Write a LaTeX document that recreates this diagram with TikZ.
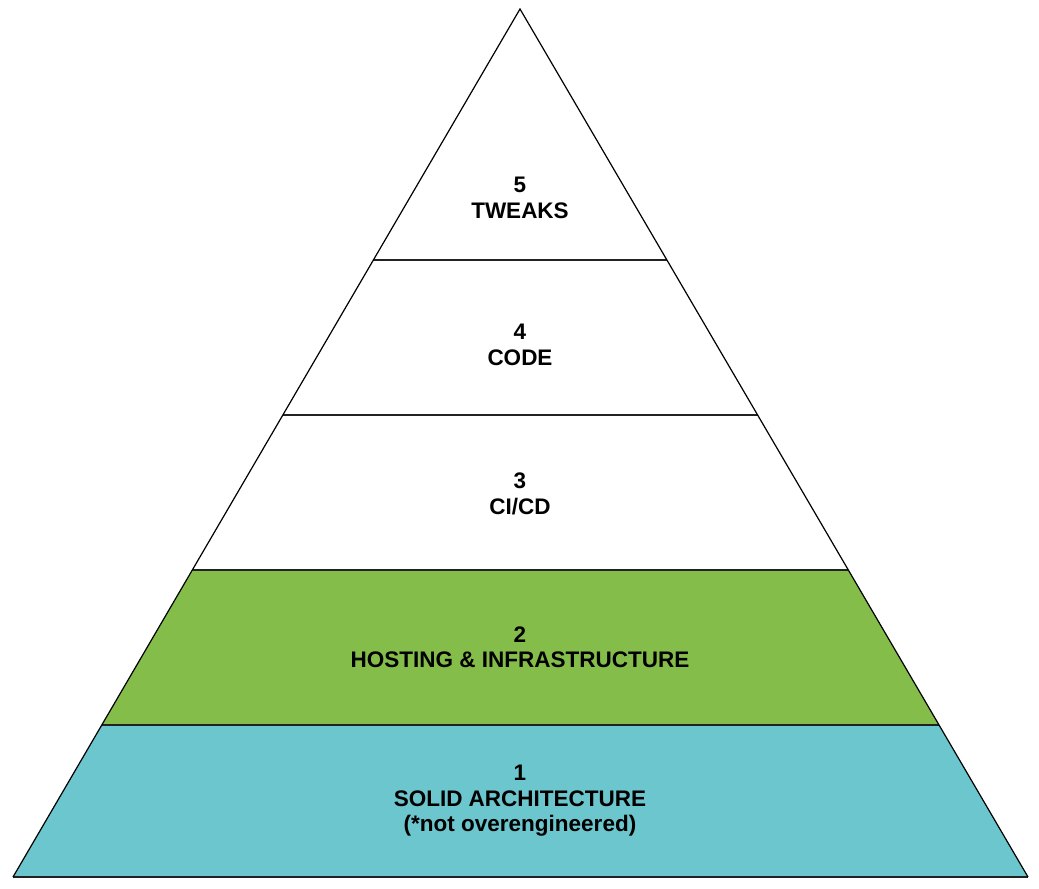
\documentclass[tikz,border=0pt]{standalone}
\usepackage{fontspec}
\setmainfont{Liberation Sans}
\usetikzlibrary{calc}
\definecolor{tiergreen}{RGB}{132,189,74}
\definecolor{tierteal}{RGB}{107,198,206}
\definecolor{linegray}{RGB}{34,34,34}
\begin{document}
\begin{tikzpicture}[x=1pt,y=-1pt,
  tierlabel/.style={align=center,font=\fontsize{22.5}{25.5}\selectfont\bfseries,inner sep=0pt},
  divider/.style={draw=linegray,line width=2.6pt},
  outline/.style={draw=black,line width=1.2pt,line join=miter}]
\useasboundingbox (0,0) rectangle (1039,889);
\coordinate (A) at (520,9);
\coordinate (BL) at (13,877);
\coordinate (BR) at (1028,877);
\foreach \n/\t in {a/0.2892,b/0.4677,c/0.6463,d/0.8249}{
  \coordinate (L\n) at ($(A)!\t!(BL)$);
  \coordinate (R\n) at ($(A)!\t!(BR)$);
}
\fill[tiergreen] (Lc) -- (Rc) -- (Rd) -- (Ld) -- cycle;
\fill[tierteal] (Ld) -- (Rd) -- (BR) -- (BL) -- cycle;
\draw[divider] (La) -- (Ra);
\draw[divider] (Lb) -- (Rb);
\draw[divider] (Lc) -- (Rc);
\draw[divider] (Ld) -- (Rd);
\draw[divider] (BL) -- (BR);
\draw[outline] (BL) -- (A) -- (BR);
\node[tierlabel] (t5) at (520,198) {5\\TWEAKS};
\node[tierlabel] (t4) at (520,345) {4\\CODE};
\node[tierlabel] (t3) at (520,494) {3\\CI/CD};
\node[tierlabel] (t2) at (520,647) {2\\HOSTING \& INFRASTRUCTURE};
\node[tierlabel] (t1) at (520,801) {1\\SOLID ARCHITECTURE\\(*not overengineered)};
\end{tikzpicture}
\end{document}
